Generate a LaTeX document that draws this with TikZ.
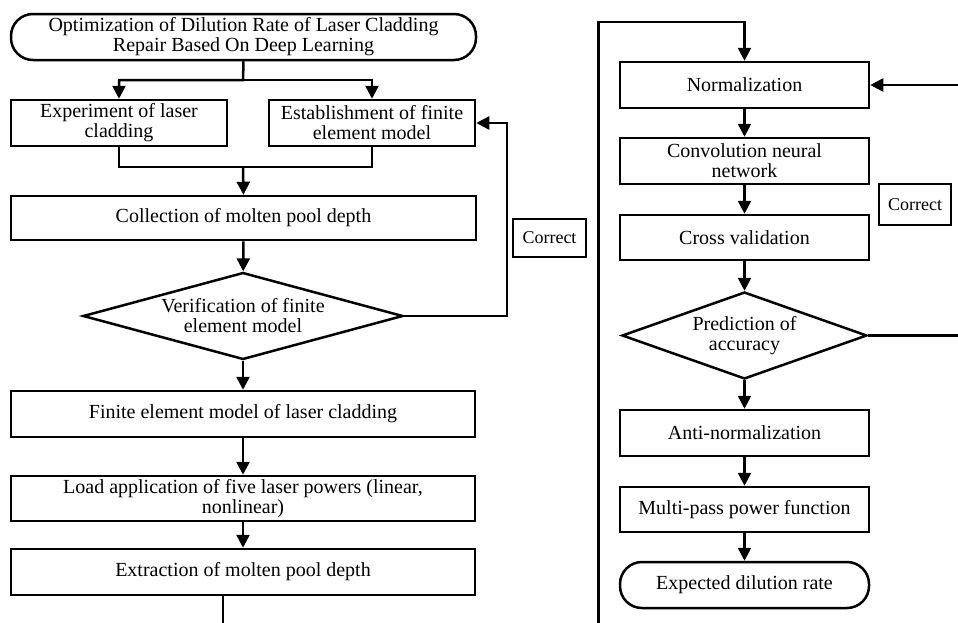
\documentclass[tikz,border=0pt]{standalone}
\usepackage{fontspec}
\setmainfont{Liberation Serif}
\usetikzlibrary{shapes.geometric, arrows.meta, positioning, calc}
\tikzset{
    % Box styles with sharp corners
    process/.style={
        rectangle,
        draw=black,
        fill=white,
        line width=2.5pt,
        inner sep=0pt,
        align=center,
        font=\fontsize{20}{20}\selectfont
    },
    terminal/.style={
        process,
        rounded corners=22pt
    },
    decision/.style={
        diamond,
        draw=black,
        fill=white,
        line width=2.5pt,
        inner sep=0pt,
        align=center,
        font=\fontsize{20}{20}\selectfont
    },
    note/.style={
        process,
        font=\fontsize{18}{18}\selectfont
    },
    arrow style/.style={
        -{Triangle[width=13pt,length=13pt]},
        line width=2.5pt,
        black
    },
    line style/.style={
        line width=2.5pt,
        black
    }
}
\begin{document}
\begin{tikzpicture}[x=1pt, y=-1pt]
    \useasboundingbox (0,0) rectangle (958,622);

    % Left column
    \node[terminal, minimum width=465pt, minimum height=46pt] (title) at (243.5,37) {
        Optimization of Dilution Rate of Laser Cladding\\
        Repair Based On Deep Learning
    };
    \node[process, minimum width=216pt, minimum height=46pt] (experiment) at (119,123) {Experiment of laser\\ cladding};
    \node[process, minimum width=206pt, minimum height=46pt] (establish) at (372,123) {Establishment of finite\\ element model};
    \node[process, minimum width=465pt, minimum height=44pt] (collect) at (243.5,218) {Collection of molten pool depth};
    \node[decision, aspect=3.68, minimum width=320pt, minimum height=87pt] (verify) at (243,316) {Verification of finite\\ element model};
    \node[note, minimum width=73pt, minimum height=38pt] (correct left) at (549.5,238) {Correct};
    \node[process, minimum width=464pt, minimum height=46pt] (femodel) at (243,414) {Finite element model of laser cladding};
    \node[process, minimum width=464pt, minimum height=45pt] (load) at (243,498.5) {Load application of five laser powers (linear,\\ nonlinear)};
    \node[process, minimum width=464pt, minimum height=46pt] (extract) at (243,572) {Extraction of molten pool depth};

    % Right column
    \node[process, minimum width=249pt, minimum height=46pt] (norm) at (744.5,85) {Normalization};
    \node[process, minimum width=249pt, minimum height=46pt] (cnn) at (744.5,161) {Convolution neural\\ network};
    \node[process, minimum width=249pt, minimum height=45pt] (cross) at (744.5,237.5) {Cross validation};
    \node[decision, aspect=2.82, minimum width=245pt, minimum height=87pt] (predict) at (744.5,335.5) {Prediction of\\ accuracy};
    \node[note, minimum width=72pt, minimum height=41pt] (correct right) at (915,204.5) {Correct};
    \node[process, minimum width=249pt, minimum height=46pt] (antinorm) at (744.5,433) {Anti-normalization};
    \node[process, minimum width=249pt, minimum height=45pt] (multipass) at (744.5,509.5) {Multi-pass power function};
    \node[terminal, minimum width=249pt, minimum height=46pt] (expected) at (744.5,585) {Expected dilution rate};

    % Connection points
    \coordinate (split) at (243,80);
    \coordinate (merge) at (243,167);
    \coordinate (back left) at (507,316);
    \coordinate (out left) at (223,630);
    \coordinate (in right) at (598.5,630);
    \coordinate (top right) at (598.5,22);
    \coordinate (back right) at (966,335.5);

    % Connection lines
    \draw[arrow style] (title.south) -- (split) -| (experiment.north);
    \draw[arrow style] (split) -| (establish.north);
    \draw[line style] (experiment.south) |- (merge) -| (establish.south);
    \draw[arrow style] (merge) -- (collect.north);
    \draw[arrow style] (collect) -- (verify);
    \draw[arrow style] (verify.east) -- (back left) |- (establish.east);
    \draw[arrow style] (verify) -- (femodel);
    \draw[arrow style] (femodel) -- (load);
    \draw[arrow style] (load) -- (extract);
    \draw[line style] (extract.south -| out left) -- (out left);

    \draw[arrow style] (in right) -- (top right) -| (norm.north);
    \draw[arrow style] (norm) -- (cnn);
    \draw[arrow style] (cnn) -- (cross);
    \draw[arrow style] (cross) -- (predict);
    \draw[arrow style] (predict.east) -- (back right) |- (norm.east);
    \draw[arrow style] (predict) -- (antinorm);
    \draw[arrow style] (antinorm) -- (multipass);
    \draw[arrow style] (multipass) -- (expected);
\end{tikzpicture}
\end{document}
